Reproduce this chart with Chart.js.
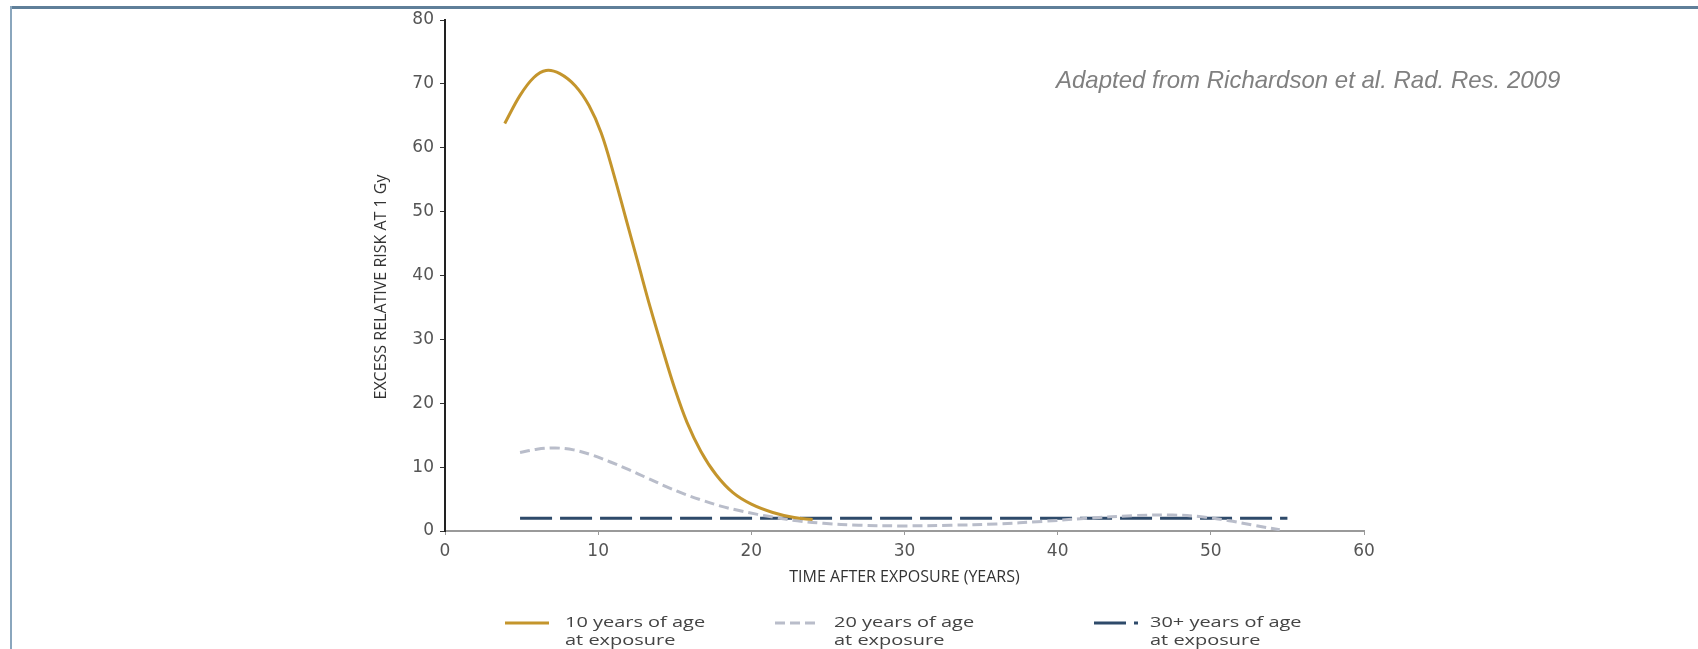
<!DOCTYPE html>
<html>
<head>
<meta charset="utf-8">
<script src="https://cdn.jsdelivr.net/npm/chart.js@4.4.1/dist/chart.umd.min.js"></script>
<style>
  html, body { margin: 0; padding: 0; background: #fff; }
  #wrap { width: 1698px; height: 649px; position: relative; }
</style>
</head>
<body>
<div id="wrap"><canvas id="riskChart" width="1698" height="649"></canvas></div>
<script>
// values (years after exposure / excess relative risk)
const age10Years = [3.9, 4.9, 5.8, 6.6, 7.5, 8.5, 9.4, 10.2, 11.0, 11.8, 12.6, 13.4, 14.2, 15.0, 15.8, 16.7, 17.7, 18.8, 20.0, 21.4, 22.8, 24.0];
const age10Risk  = [63.8, 68.2, 71.0, 72.1, 71.6, 69.7, 66.6, 62.3, 56.0, 49.0, 42.0, 35.0, 28.5, 22.3, 17.0, 12.5, 8.8, 6.0, 4.2, 2.9, 2.1, 1.8];

const age20Years = [4.9, 6.0, 7.2, 8.4, 9.6, 10.8, 12.0, 13.2, 14.4, 15.6, 16.8, 18.0, 19.2, 20.4, 21.6, 23.0, 24.7, 27.0, 30.0, 33.0, 36.0, 39.0, 42.0, 45.0, 47.5, 49.5, 51.2, 52.8, 54.5];
const age20Risk  = [12.3, 12.8, 13.0, 12.7, 11.9, 10.8, 9.6, 8.3, 7.0, 5.8, 4.8, 3.9, 3.2, 2.6, 2.1, 1.6, 1.2, 0.9, 0.8, 0.9, 1.1, 1.5, 2.0, 2.4, 2.5, 2.2, 1.6, 0.9, 0.2];

const age30Years = [4.9, 55.0];
const age30Risk  = [2.0, 2.0];

const legendLines = [
  ['10 years of age', 'at exposure'],
  ['20 years of age', 'at exposure'],
  ['30+ years of age', 'at exposure']
];
const xTitle = 'TIME AFTER EXPOSURE (YEARS)';
const yTitle = 'EXCESS RELATIVE RISK AT 1 Gy';
const sourceNote = 'Adapted from Richardson et al. Rad. Res. 2009';

function toPoints(xs, ys) {
  return xs.map((x, i) => ({ x: x, y: ys[i] }));
}

// the source figure is stretched sideways, so the legend text is too
function wideText(ctx, text, x, y, stretch) {
  ctx.save();
  ctx.translate(x, y);
  ctx.scale(stretch, 1);
  ctx.fillText(text, 0, 0);
  ctx.restore();
}

const frameAndNotes = {
  id: 'frameAndNotes',
  beforeDraw(chart) {
    const ctx = chart.ctx;
    ctx.save();
    ctx.fillStyle = '#fff';
    ctx.fillRect(0, 0, chart.width, chart.height);
    // slide frame
    ctx.fillStyle = '#5f7f99';
    ctx.fillRect(10, 6, chart.width - 10, 3);
    ctx.fillStyle = '#8aa6bd';
    ctx.fillRect(10, 6, 2, chart.height - 6);
    ctx.restore();
  },
  afterDraw(chart) {
    const ctx = chart.ctx;
    ctx.save();
    ctx.font = 'italic 24px "Liberation Sans", Arial, sans-serif';
    ctx.fillStyle = '#808080';
    ctx.textBaseline = 'middle';
    ctx.textAlign = 'left';
    ctx.fillText(sourceNote, 1056, 81);

    // y axis title, sits a little below the middle of the axis
    ctx.save();
    ctx.font = '16px "Open Sans", sans-serif';
    ctx.fillStyle = '#333';
    ctx.textAlign = 'center';
    ctx.translate(381, 287);
    ctx.rotate(-Math.PI / 2);
    ctx.fillText(yTitle, 0, 0);
    ctx.restore();

    // legend below the axis
    const swatchX = [505, 775, 1094];
    const textX = [565, 834, 1150];
    ctx.font = '15px "Open Sans", sans-serif';
    ctx.fillStyle = '#444';
    chart.data.datasets.forEach((ds, i) => {
      ctx.save();
      ctx.strokeStyle = ds.borderColor;
      ctx.lineWidth = 3;
      ctx.setLineDash(ds.borderDash || []);
      ctx.beginPath();
      ctx.moveTo(swatchX[i], 623);
      ctx.lineTo(swatchX[i] + 44, 623);
      ctx.stroke();
      ctx.restore();
      wideText(ctx, legendLines[i][0], textX[i], 623, 1.33);
      wideText(ctx, legendLines[i][1], textX[i], 641, 1.33);
    });
    ctx.restore();
  }
};

new Chart(document.getElementById('riskChart'), {
  type: 'line',
  data: {
    datasets: [
      {
        label: legendLines[0].join(' '),
        data: toPoints(age10Years, age10Risk),
        borderColor: '#c4952c',
        borderWidth: 3,
        tension: 0.35
      },
      {
        label: legendLines[1].join(' '),
        data: toPoints(age20Years, age20Risk),
        borderColor: '#b9bdca',
        borderWidth: 3,
        borderDash: [10, 5],
        tension: 0.35
      },
      {
        label: legendLines[2].join(' '),
        data: toPoints(age30Years, age30Risk),
        borderColor: '#2e4a6a',
        borderWidth: 3,
        borderDash: [32, 8]
      }
    ]
  },
  options: {
    responsive: false,
    animation: false,
    devicePixelRatio: 1,
    layout: { padding: { left: 0, top: 20, right: 334, bottom: 0 } },
    elements: { point: { radius: 0 } },
    plugins: {
      legend: { display: false },
      tooltip: { enabled: false }
    },
    scales: {
      x: {
        type: 'linear',
        min: 0,
        max: 60,
        afterFit(scale) { scale.height = 118; },
        ticks: {
          stepSize: 10,
          padding: 6,
          color: '#555',
          font: { family: 'DejaVu Sans', size: 17 }
        },
        grid: { drawOnChartArea: false, tickLength: 4, color: '#999' },
        border: { color: '#9a9a9a', width: 2 },
        title: {
          display: true,
          text: xTitle,
          color: '#333',
          font: { family: 'Open Sans', size: 16 },
          padding: { top: 0, bottom: 62 }
        }
      },
      y: {
        min: 0,
        max: 80,
        afterFit(scale) { scale.width = 445; },
        ticks: {
          stepSize: 10,
          padding: 6,
          color: '#555',
          font: { family: 'DejaVu Sans', size: 17 }
        },
        grid: { drawOnChartArea: false, tickLength: 5, color: '#333' },
        border: { color: '#222', width: 2 }
      }
    }
  },
  plugins: [frameAndNotes]
});
</script>
</body>
</html>
